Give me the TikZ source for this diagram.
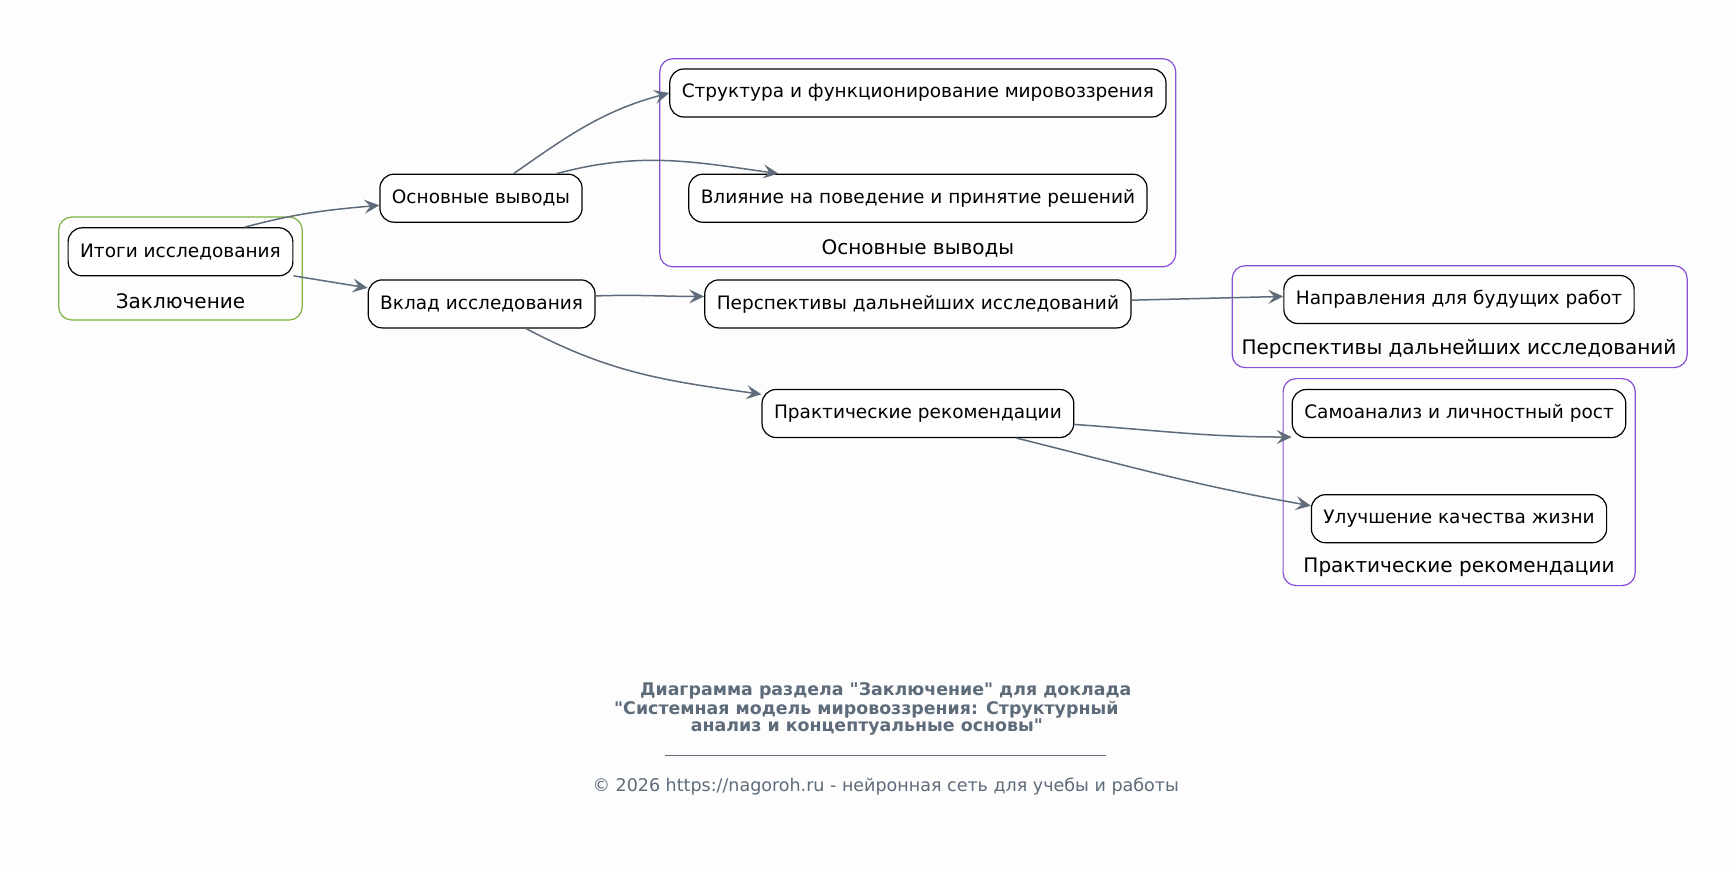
\documentclass[tikz,border=0pt]{standalone}
\usepackage{fontspec}
\setmainfont{DejaVu Sans}
\newfontfamily\plaindejavu{DejaVu Sans}
\usetikzlibrary{arrows.meta}
\usepackage{xcolor}

\definecolor{edgegray}{RGB}{94,107,122}
\definecolor{clgreen}{RGB}{124,179,66}
\definecolor{clpurple}{RGB}{137,78,214}
\definecolor{bgwhite}{RGB}{253,253,253}

\begin{document}
\begin{tikzpicture}[x=1pt, y=1pt]
        % ================= стили =================
        \tikzset{
            % узел: белый фон, чёрная рамка, скруглённые углы
            box/.style={draw=black, line width=1.2pt, fill=white, rounded corners=14pt,
                minimum height=48pt, inner xsep=12pt, font=\fontsize{18.5}{22}\selectfont},
            % рамка группы
            cluster/.style={line width=1.2pt, rounded corners=13pt},
            % подпись группы
            cllabel/.style={font=\fontsize{20}{24}\selectfont},
            % стрелка
            edge/.style={line width=1.5pt, edgegray, -{Stealth[length=15pt, width=14pt, inset=6pt]}},
            % подпись внизу
            titletext/.style={edgegray, font=\plaindejavu\bfseries\fontsize{17.4}{19}\selectfont},
            foottext/.style={edgegray, font=\plaindejavu\fontsize{17.5}{20}\selectfont}
        }

        % фон и размеры картинки
        \fill[bgwhite] (0,0) rectangle (1736,-871);
        \useasboundingbox (0,0) rectangle (1736,-871);

        % ================= группы =================
        \draw[cluster, clgreen] (58.7,-217) rectangle (302.2,-320);
        \draw[cluster, clpurple] (659.8,-58.7) rectangle (1175.7,-266.8);
        \draw[cluster, clpurple] (1232.2,-265.7) rectangle (1687.2,-367.6);
        \draw[cluster, clpurple] (1283.1,-378.6) rectangle (1635.2,-585.6);

        \node[cllabel] (lzakl) at (180.5,-301) {Заключение};
        \node[cllabel] (losn) at (917.9,-248) {Основные выводы};
        \node[cllabel] (lpersp) at (1459,-348.7) {Перспективы дальнейших исследований};
        \node[cllabel] (lprakt) at (1459,-567.5) {Практические рекомендации};

        % ================= узлы =================
        \node[box] (itogi) at (180.5,-251.8) {Итоги исследования};
        \node[box] (osnvyv) at (481,-198.2) {Основные выводы};
        \node[box] (vklad) at (481.6,-303.9) {Вклад исследования};
        \node[box] (struct) at (917.9,-93) {Структура и функционирование мировоззрения};
        \node[box] (vliyanie) at (917.9,-198.2) {Влияние на поведение и принятие решений};
        \node[box] (persp) at (917.9,-303.9) {Перспективы дальнейших исследований};
        \node[box] (prakt) at (917.9,-413.5) {Практические рекомендации};
        \node[box] (napr) at (1459,-299.5) {Направления для будущих работ};
        \node[box] (samoanaliz) at (1459,-413.5) {Самоанализ и личностный рост};
        \node[box] (uluchsh) at (1459,-518.7) {Улучшение качества жизни};

        % ================= стрелки =================
        \draw[edge] (itogi.21) to[out=15, in=185] (osnvyv.184);
        \draw[edge] (itogi.-12) -- (vklad.172);
        \draw[edge] (osnvyv.37) to[out=35, in=195] (struct.west);
        \draw[edge] (osnvyv.18) to[out=15, in=172] (vliyanie.170);
        \draw[edge] (vklad.4) to[out=2, in=180] (persp.178);
        \draw[edge] (vklad.-29) to[out=-28, in=172] (prakt.173);
        \draw[edge] (persp.1) -- (napr.179);
        \draw[edge] (prakt.-4) to[out=-4, in=180] (samoanaliz.188);
        \draw[edge] (prakt.-14) to[out=-14, in=170] (uluchsh.175);

        % ================= подпись =================
        \node[titletext] (title1) at (885.7,-691) {Диаграмма раздела "Заключение" для доклада};
        \node[titletext] (title2) at (866.3,-709.6) {"Системная модель мировоззрения: Структурный};
        \node[titletext] (title3) at (866.9,-727.4) {анализ и концептуальные основы"};
        \coordinate (rulel) at (665.4,-755);
        \coordinate (ruler) at (1106,-755);
        \draw[edgegray, line width=0.8pt] (rulel) -- (ruler);
        \node[foottext] (foot) at (885.7,-787) {© 2026 https://nagoroh.ru - нейронная сеть для учебы и работы};

    \end{tikzpicture}
\end{document}
